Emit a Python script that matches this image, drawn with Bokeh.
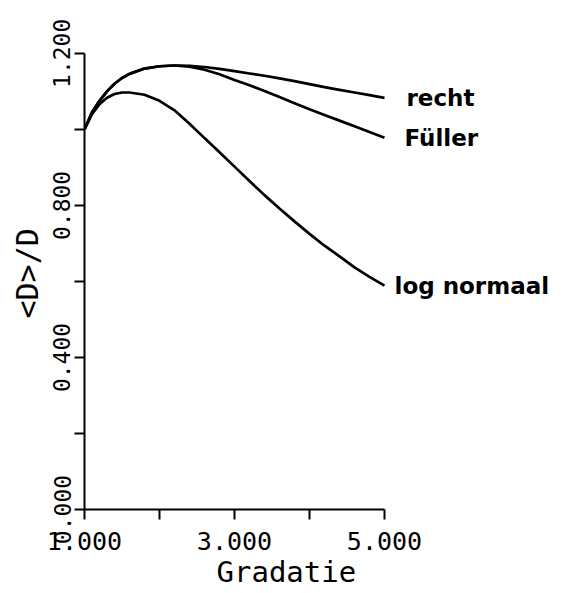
from bokeh.embed import file_html
from bokeh.resources import INLINE
from bokeh.plotting import figure
from bokeh.models import Range1d, FixedTicker, Title, ColumnDataSource
from bokeh.core.properties import value

# Gradatie (x) and mean-size ratio <D>/D for three grading curves
gradatie = [1.0, 1.1, 1.2, 1.3, 1.4, 1.5, 1.6, 1.8, 2.0, 2.2, 2.4, 2.6, 2.8,
            3.0, 3.2, 3.4, 3.6, 3.8, 4.0, 4.2, 4.4, 4.6, 4.8, 5.0]
recht = [1.000, 1.045, 1.075, 1.100, 1.120, 1.135, 1.146, 1.160, 1.166, 1.168,
         1.167, 1.164, 1.159, 1.153, 1.147, 1.141, 1.134, 1.127, 1.119, 1.111,
         1.104, 1.097, 1.090, 1.083]
fuller = [1.000, 1.045, 1.075, 1.100, 1.120, 1.135, 1.146, 1.160, 1.166, 1.168,
          1.165, 1.157, 1.145, 1.130, 1.116, 1.101, 1.085, 1.069, 1.053, 1.038,
          1.023, 1.008, 0.993, 0.978]
log_normaal = [1.000, 1.040, 1.066, 1.083, 1.093, 1.097, 1.097, 1.091, 1.075,
               1.050, 1.015, 0.977, 0.940, 0.902, 0.864, 0.827, 0.792, 0.758,
               0.725, 0.694, 0.666, 0.637, 0.612, 0.589]

series_names = ["recht", "Füller", "log normaal"]
series_values = [recht, fuller, log_normaal]

x_ticks = [1, 2, 3, 4, 5]
x_tick_labels = ["1.000", "", "3.000", "", "5.000"]
y_ticks = [0.0, 0.2, 0.4, 0.6, 0.8, 1.0, 1.2]
y_tick_labels = ["0.000", "", "0.400", "", "0.800", "", "1.200"]

W, H = 582, 593
p = figure(width=W, height=H, output_backend="svg", toolbar_location=None,
           x_range=Range1d(1, 7.64), y_range=Range1d(0, 1.339),
           min_border_left=84, min_border_right=0, min_border_top=0,
           min_border_bottom=84)
p.outline_line_color = None
p.xgrid.visible = False
p.ygrid.visible = False
p.background_fill_color = "white"
p.border_fill_color = "white"

mono = "DejaVu Sans Mono"

for ax in (p.xaxis[0], p.yaxis[0]):
    ax.axis_line_width = 2
    ax.axis_line_color = "black"
    ax.major_tick_line_width = 2
    ax.major_tick_line_color = "black"
    ax.major_tick_in = 0
    ax.major_tick_out = 10
    ax.minor_tick_line_color = None
    ax.major_label_text_font = mono
    ax.major_label_text_color = "black"

p.xaxis.bounds = (1, 5)
p.xaxis.ticker = FixedTicker(ticks=x_ticks)
p.xaxis.major_label_overrides = {t: s for t, s in zip(x_ticks, x_tick_labels)}
p.xaxis.major_label_text_font_size = "25px"
p.xaxis.major_label_standoff = 12

p.yaxis.bounds = (0, 1.2)
p.yaxis.ticker = FixedTicker(ticks=y_ticks)
p.yaxis.major_label_overrides = {t: s for t, s in zip(y_ticks, y_tick_labels)}
p.yaxis.major_label_text_font_size = "23px"
p.yaxis.major_label_orientation = "vertical"
p.yaxis.major_label_standoff = 4

# curves with their labels at the right-hand end
label_offsets = [22, 20, 10]
for name, vals, off in zip(series_names, series_values, label_offsets):
    p.line(gradatie, vals, line_color="black", line_width=2.7)
    src = ColumnDataSource(dict(x=[gradatie[-1]], y=[vals[-1]], t=[name]))
    p.text("x", "y", text="t", source=src, x_offset=off,
           text_baseline="middle", text_align="left",
           text_font=value("DejaVu Sans"), text_font_style="bold",
           text_font_size="23px", text_color="black")

# axis titles
p.add_layout(Title(text="Gradatie", align="left", offset=132,
                   text_font=mono, text_font_size="29px",
                   text_font_style="normal", text_color="black",
                   standoff=0), "below")
p.add_layout(Title(text="<D>/D", align="left", offset=191,
                   text_font=mono, text_font_size="30px",
                   text_font_style="normal", text_color="black",
                   standoff=12), "left")

open("out.html", "w").write(file_html(p, INLINE))
